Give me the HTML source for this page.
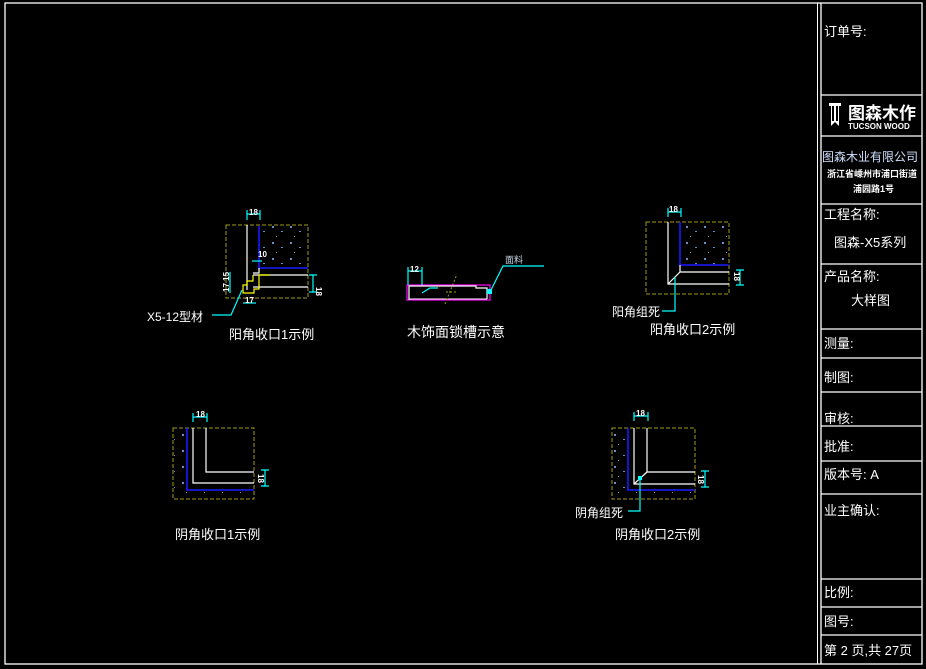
<!DOCTYPE html>
<html><head><meta charset="utf-8"><style>
html,body{margin:0;padding:0;background:#000;}
svg{display:block}
text{font-family:"Liberation Sans","Noto Sans CJK SC",sans-serif;fill:#fff}
</style></head><body>
<svg width="926" height="669" viewBox="0 0 926 669" xmlns="http://www.w3.org/2000/svg">
<defs>
<pattern id="sp" width="18" height="16" patternUnits="userSpaceOnUse">
<rect x="2" y="2" width="2" height="2" fill="#6a8fc8"/>
<rect x="11" y="7" width="2" height="1" fill="#6a8fc8"/>
<rect x="6" y="12" width="1" height="1" fill="#6a8fc8"/>
</pattern>
</defs>
<g stroke="#fff" stroke-width="1.3" fill="none">
<rect x="5" y="3" width="917" height="661"/>
<line x1="817.5" y1="3" x2="817.5" y2="664" stroke-width="1"/>
<line x1="821" y1="3" x2="821" y2="664"/>
<g stroke-width="1.2">
<line x1="821" y1="95" x2="922" y2="95"/>
<line x1="821" y1="136" x2="922" y2="136"/>
<line x1="821" y1="204" x2="922" y2="204"/>
<line x1="821" y1="264" x2="922" y2="264"/>
<line x1="821" y1="329" x2="922" y2="329"/>
<line x1="821" y1="358" x2="922" y2="358"/>
<line x1="821" y1="392" x2="922" y2="392"/>
<line x1="821" y1="426" x2="922" y2="426"/>
<line x1="821" y1="461" x2="922" y2="461"/>
<line x1="821" y1="494" x2="922" y2="494"/>
<line x1="821" y1="579" x2="922" y2="579"/>
<line x1="821" y1="607" x2="922" y2="607"/>
<line x1="821" y1="635" x2="922" y2="635"/>
</g>
</g>
<g font-size="13">
<text x="824" y="36">订单号:</text>
<text x="824" y="219">工程名称:</text>
<text x="834" y="247">图森-X5系列</text>
<text x="824" y="281">产品名称:</text>
<text x="851" y="305">大样图</text>
<text x="824" y="348">测量:</text>
<text x="824" y="382">制图:</text>
<text x="824" y="423">审核:</text>
<text x="824" y="451">批准:</text>
<text x="824" y="479">版本号: A</text>
<text x="824" y="515">业主确认:</text>
<text x="824" y="597">比例:</text>
<text x="824" y="626">图号:</text>
<text x="824" y="655">第 2 页,共 27页</text>
</g>
<path d="M829 103h12v3h-2v20l-4-4-4 4v-20h-2z" fill="#fff"/>
<rect x="832" y="106" width="2" height="15" fill="#000"/>
<rect x="836" y="106" width="2" height="15" fill="#000"/>
<text x="848" y="119" font-size="17" font-weight="bold">图森木作</text>
<text x="848" y="129" font-size="8" font-weight="bold">TUCSON WOOD</text>
<text x="822" y="161" font-size="12" style="fill:#cfe0ff">图森木业有限公司</text>
<text x="827" y="177" font-size="9" font-weight="bold">浙江省嵊州市浦口街道</text>
<text x="853" y="192" font-size="9" font-weight="bold">浦园路1号</text>

<!-- Diagram 1 -->
<rect x="226" y="225" width="82" height="73" fill="none" stroke="#a09a1a" stroke-dasharray="4,2"/>
<rect x="260" y="226" width="47" height="41" fill="url(#sp)"/>
<g fill="none" stroke-width="1.2">
<path d="M259 226V268H308" stroke="#1a1aff" stroke-width="1.6"/>
<path d="M247 225V290" stroke="#fff"/>
<path d="M253 275H308M253 287H308M259 268V273H253" stroke="#fff"/>
<path d="M253 275V281H247V285H243V293H254V289H259V275H270" stroke="#ff0"/>
<path d="M242 290L231 315H212" stroke="#0ff"/>
<path d="M247 214H260M247 210V220M260 210V220" stroke="#0ff"/>
<path d="M313 275V292M309 275H317M309 292H317" stroke="#0ff"/>
<path d="M230 272V293" stroke="#0ff"/>
<path d="M243 303H256" stroke="#0ff"/>
<path d="M252 261H262" stroke="#0ff"/>
</g>
<g font-size="8" font-weight="bold"><text x="249" y="215">18</text><text x="258" y="257">10</text><text x="245" y="303">17</text>
<text x="0" y="0" transform="translate(316,287) rotate(90)">18</text>
<text x="0" y="0" transform="translate(229,292) rotate(-90)">17 15</text></g>
<text x="147" y="321" font-size="12">X5-12型材</text>
<text x="229" y="339" font-size="13">阳角收口1示例</text>

<!-- Diagram 2 -->
<rect x="407" y="285" width="83" height="15" fill="none" stroke="#f0f" stroke-width="1.2"/>
<path d="M409 300V286H476V288H487V299" fill="none" stroke="#fff" stroke-width="1.2"/>
<path d="M409 299H487" stroke="#fff"/>
<path d="M445 304L457 274M446 292H458" stroke="#a09a1a" stroke-dasharray="2,2"/>
<g fill="none" stroke="#0ff" stroke-width="1.2">
<path d="M408 271H422M408 267V285M422 267V285"/>
<path d="M422 293L430 288H438"/>
<path d="M490 292L503 266H544"/>
</g>
<rect x="487" y="289" width="5" height="5" fill="#0ff"/>
<text x="410" y="272" font-size="8" font-weight="bold">12</text>
<text x="505" y="263" font-size="9" style="fill:#cde">面料</text>
<text x="407" y="337" font-size="14">木饰面锁槽示意</text>

<!-- Diagram 3 -->
<rect x="646" y="222" width="83" height="72" fill="none" stroke="#a09a1a" stroke-dasharray="4,2"/>
<rect x="681" y="223" width="47" height="41" fill="url(#sp)"/>
<g fill="none" stroke-width="1.2">
<path d="M680 222V265H729" stroke="#1a1aff" stroke-width="1.6"/>
<path d="M668 222V284H729M680 265V272H729M668 284L680 272" stroke="#fff"/>
<path d="M675 277V311H662" stroke="#0ff"/>
<path d="M668 212H681M668 208V217M681 208V217" stroke="#0ff"/>
<path d="M740 270V285M736 270H744M736 285H744" stroke="#0ff"/>
</g>
<g font-size="8" font-weight="bold"><text x="669" y="212">18</text><text x="0" y="0" transform="translate(734,272) rotate(90)">18</text></g>
<text x="612" y="316" font-size="12">阳角组死</text>
<text x="650" y="334" font-size="13">阳角收口2示例</text>

<!-- Diagram 4 -->
<rect x="173" y="428" width="81" height="71" fill="none" stroke="#a09a1a" stroke-dasharray="4,2"/>
<rect x="174" y="429" width="12" height="69" fill="url(#sp)"/>
<rect x="186" y="491" width="67" height="7" fill="url(#sp)"/>
<g fill="none" stroke-width="1.2">
<path d="M187 428V490H254" stroke="#1a1aff" stroke-width="1.6"/>
<path d="M193 428V483H254M206 428V472H254" stroke="#fff"/>
<path d="M193 417H207M193 413V422M207 413V422" stroke="#0ff"/>
<path d="M265 470V486M261 470H269M261 486H269" stroke="#0ff"/>
</g>
<g font-size="8" font-weight="bold"><text x="196" y="417">18</text><text x="0" y="0" transform="translate(258,474) rotate(90)">18</text></g>
<text x="175" y="539" font-size="13">阴角收口1示例</text>

<!-- Diagram 5 -->
<rect x="612" y="428" width="83" height="71" fill="none" stroke="#a09a1a" stroke-dasharray="4,2"/>
<rect x="613" y="429" width="14" height="69" fill="url(#sp)"/>
<rect x="627" y="491" width="67" height="7" fill="url(#sp)"/>
<g fill="none" stroke-width="1.2">
<path d="M628 428V490H695" stroke="#1a1aff" stroke-width="1.6"/>
<path d="M634 428V484H695M647 428V472H695M634 484L647 472" stroke="#fff"/>
<path d="M640 478V511H628" stroke="#0ff"/>
<path d="M634 416H648M634 412V421M648 412V421" stroke="#0ff"/>
<path d="M705 471V487M701 471H709M701 487H709" stroke="#0ff"/>
</g>
<rect x="638" y="476" width="4" height="4" fill="#0ff"/>
<g font-size="8" font-weight="bold"><text x="636" y="416">18</text><text x="0" y="0" transform="translate(698,475) rotate(90)">18</text></g>
<text x="575" y="517" font-size="12">阴角组死</text>
<text x="615" y="539" font-size="13">阴角收口2示例</text>
</svg>
</body></html>
